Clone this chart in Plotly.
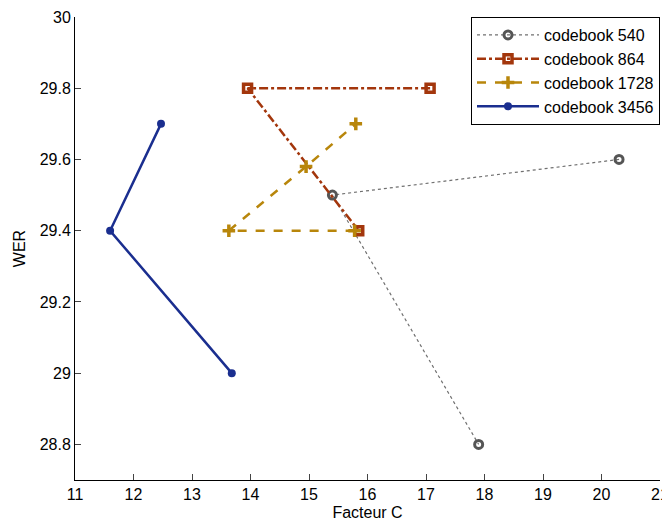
import plotly.graph_objects as go

# Data
names = ["codebook 540", "codebook 864", "codebook 1728", "codebook 3456"]
x_540 = [20.3, 15.4, 17.9]
y_540 = [29.6, 29.5, 28.8]
x_864 = [17.07, 13.95, 15.85]
y_864 = [29.8, 29.8, 29.4]
x_1728 = [15.78, 13.63, 14.95, 15.8]
y_1728 = [29.4, 29.4, 29.58, 29.7]
x_3456 = [12.47, 11.6, 13.68]
y_3456 = [29.7, 29.4, 29.0]
x_ticks = list(range(11, 22))
y_ticks = [28.8, 29.0, 29.2, 29.4, 29.6, 29.8, 30.0]
y_labels = ["28.8", "29", "29.2", "29.4", "29.6", "29.8", "30"]

fig = go.Figure()

fig.add_trace(go.Scatter(
    x=x_540, y=y_540, name=names[0], mode="lines+markers",
    line=dict(color="#707070", width=1.2, dash="dot"),
    marker=dict(symbol="circle-open", size=8, color="#555555", line=dict(width=3))
))
fig.add_trace(go.Scatter(
    x=x_864, y=y_864, name=names[1], mode="lines+markers",
    line=dict(color="#a3360c", width=2.5, dash="dashdot"),
    marker=dict(symbol="square-open", size=8, color="#a3360c", line=dict(width=3.5))
))
fig.add_trace(go.Scatter(
    x=x_1728, y=y_1728, name=names[2], mode="lines+markers",
    line=dict(color="#b8860b", width=2.5, dash="dash"),
    marker=dict(symbol="cross-thin", size=9, color="#b8860b", line=dict(width=3.5, color="#b8860b"))
))
fig.add_trace(go.Scatter(
    x=x_3456, y=y_3456, name=names[3], mode="lines+markers",
    line=dict(color="#1a2e8f", width=2.5),
    marker=dict(symbol="circle", size=8, color="#1a2e8f")
))

axis_font = dict(family="Liberation Sans, Arial, sans-serif", size=16, color="black")

# page body has an 8px margin, so the figure is a bit smaller than the window
fig.update_layout(
    width=662,
    height=513,
    margin=dict(l=67, r=10, t=9, b=41),
    paper_bgcolor="white",
    plot_bgcolor="white",
    font=axis_font,
    xaxis=dict(
        range=[11, 21], tickvals=x_ticks, ticks="inside", ticklen=6,
        showline=True, linecolor="black", linewidth=1, showgrid=False,
        zeroline=False, tickfont=axis_font, automargin=False,
        title=dict(text="Facteur C", font=axis_font, standoff=5)
    ),
    yaxis=dict(
        range=[28.7, 30], tickvals=y_ticks, ticktext=y_labels,
        ticks="inside", ticklen=6, showline=True, linecolor="black",
        linewidth=1, showgrid=False, zeroline=False, tickfont=axis_font,
        automargin=False,
        title=dict(text="WER", font=axis_font, standoff=10)
    ),
    legend=dict(
        x=1, y=1, xanchor="right", yanchor="top",
        bordercolor="black", borderwidth=1, bgcolor="white",
        font=dict(family="Liberation Sans, Arial, sans-serif", size=16),
        tracegroupgap=0, itemwidth=62
    ),
    showlegend=True
)

fig.write_html("out.html")
